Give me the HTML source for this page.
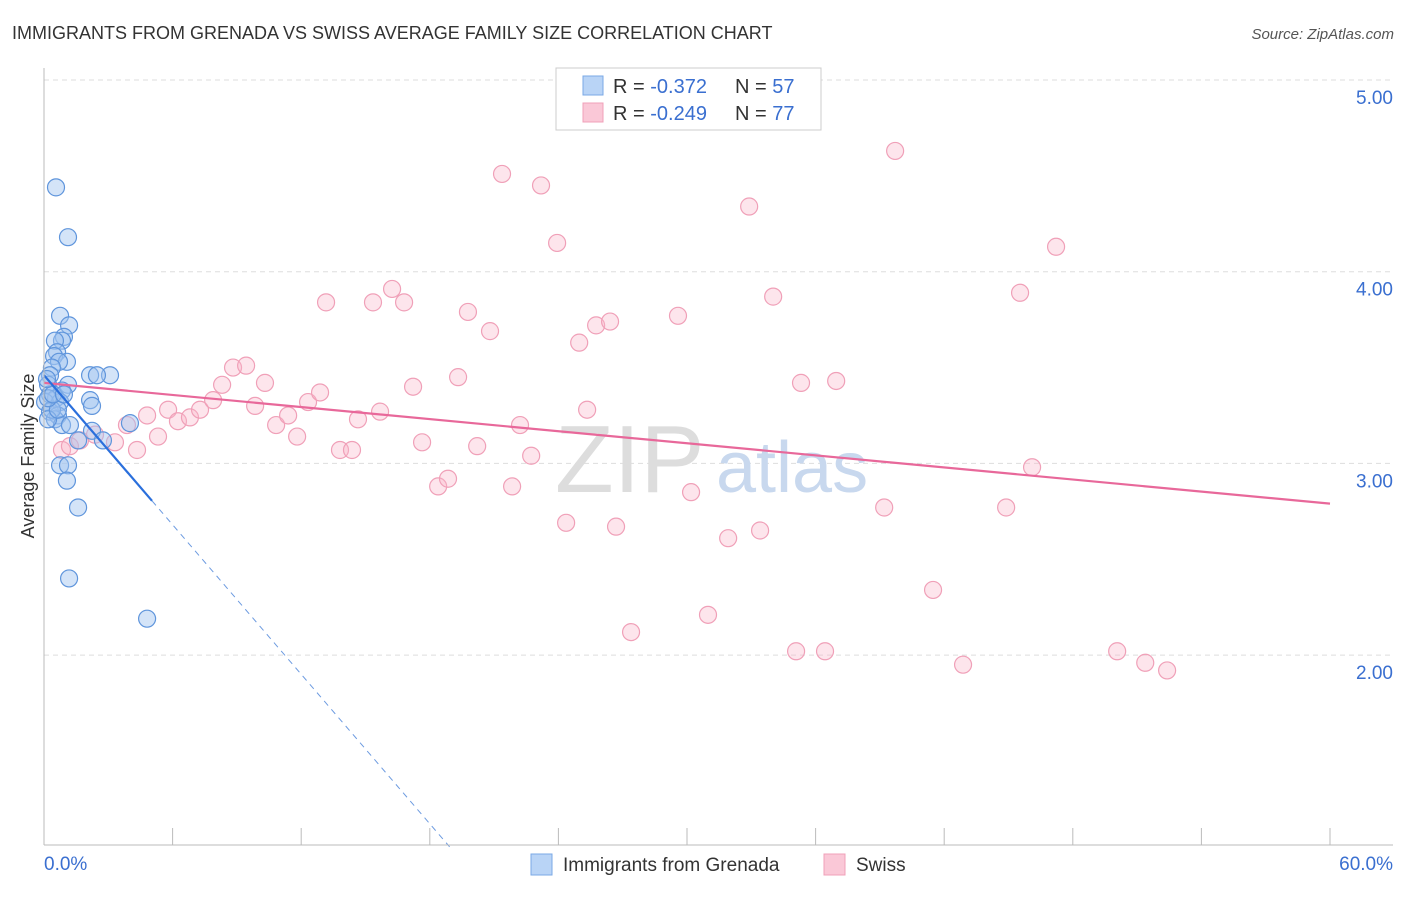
<!DOCTYPE html>
<html><head><meta charset="utf-8"><style>
body{margin:0;background:#fff;font-family:"Liberation Sans",sans-serif;}
svg text{font-family:"Liberation Sans",sans-serif;}
</style></head><body>
<svg id="c" width="1406" height="892" xmlns="http://www.w3.org/2000/svg">
<text x="12" y="39" font-size="18" fill="#333">IMMIGRANTS FROM GRENADA VS SWISS AVERAGE FAMILY SIZE CORRELATION CHART</text>
<text x="1394" y="39" font-size="15" fill="#555" font-style="italic" text-anchor="end">Source: ZipAtlas.com</text>
<g id="grid"></g>
<text x="555" y="492" font-size="96" fill="#ddd" font-family="Liberation Serif">ZIP</text>
<text x="716" y="492" font-size="72" fill="#c8d8ee">atlas</text>
<g id="pts"></g>
<g id="lines"></g>
<line x1="44" y1="68" x2="44" y2="845" stroke="#bbb"/>
<line x1="44" y1="845" x2="1393" y2="845" stroke="#bbb"/>
<g id="ticks"></g>
<text x="44" y="870" font-size="19" fill="#3a6fd0">0.0%</text>
<text x="1393" y="870" font-size="19" fill="#3a6fd0" text-anchor="end">60.0%</text>
<text transform="translate(34,456) rotate(-90)" font-size="18" fill="#333" text-anchor="middle">Average Family Size</text>
<g>
<rect x="556" y="68" width="265" height="62" fill="#fff" stroke="#ccc"/>
<rect x="583" y="76" width="20" height="19" fill="#b9d4f6" stroke="#7aa8e6"/>
<rect x="583" y="103" width="20" height="19" fill="#fac8d7" stroke="#f0a0b8"/>
<text x="613" y="93" font-size="20" fill="#333">R = <tspan fill="#3a6fd0">-0.372</tspan></text>
<text x="735" y="93" font-size="20" fill="#333">N = <tspan fill="#3a6fd0">57</tspan></text>
<text x="613" y="120" font-size="20" fill="#333">R = <tspan fill="#3a6fd0">-0.249</tspan></text>
<text x="735" y="120" font-size="20" fill="#333">N = <tspan fill="#3a6fd0">77</tspan></text>
</g>
<g>
<rect x="531" y="854" width="21" height="21" fill="#b9d4f6" stroke="#7aa8e6"/>
<text x="563" y="871" font-size="19" fill="#333">Immigrants from Grenada</text>
<rect x="824" y="854" width="21" height="21" fill="#fac8d7" stroke="#f0a0b8"/>
<text x="856" y="871" font-size="19" fill="#333">Swiss</text>
</g>
</svg>
<script>
const yTicks=[2,3,4,5];
const yTickLabels=["2.00","3.00","4.00","5.00"];
const blueX=[0.56,1.12,0.75,1.17,0.93,0.84,0.51,0.61,0.47,1.07,0.70,0.37,0.28,2.15,3.08,2.47,1.12,0.19,0.84,0.28,0.56,0.05,0.75,2.15,2.24,0.28,0.65,0.51,0.84,1.21,2.24,4.01,2.75,1.59,0.75,1.12,1.07,1.59,1.17,4.81,0.37,0.19,0.65,0.19,0.42,0.93,0.14];
const blueY=[4.44,4.18,3.77,3.72,3.66,3.64,3.64,3.58,3.56,3.53,3.53,3.50,3.46,3.46,3.46,3.46,3.41,3.41,3.38,3.36,3.34,3.32,3.32,3.33,3.30,3.27,3.25,3.23,3.20,3.20,3.17,3.21,3.12,3.12,2.99,2.99,2.91,2.77,2.40,2.19,3.28,3.23,3.28,3.34,3.36,3.36,3.44];
const pinkX=[0.84,1.21,1.68,2.38,3.31,3.87,4.34,4.81,5.32,5.79,6.25,6.81,7.28,7.89,8.31,8.82,9.43,9.85,10.31,10.83,11.39,11.81,12.32,12.88,13.16,13.81,14.37,14.65,15.35,15.68,16.24,16.80,17.22,17.64,18.39,18.85,19.32,19.78,20.21,20.81,21.37,21.84,22.21,22.73,23.19,23.94,24.36,24.97,25.34,25.76,26.41,26.69,27.39,29.58,30.19,30.98,31.92,32.90,33.41,34.02,35.09,35.32,36.44,36.96,39.20,39.71,41.48,42.88,44.89,45.54,46.10,47.22,50.07,51.38,52.40];
const pinkY=[3.07,3.09,3.12,3.15,3.11,3.20,3.07,3.25,3.14,3.28,3.22,3.24,3.28,3.33,3.41,3.50,3.51,3.30,3.42,3.20,3.25,3.14,3.32,3.37,3.84,3.07,3.07,3.23,3.84,3.27,3.91,3.84,3.40,3.11,2.88,2.92,3.45,3.79,3.09,3.69,4.51,2.88,3.20,3.04,4.45,4.15,2.69,3.63,3.28,3.72,3.74,2.67,2.12,3.77,2.85,2.21,2.61,4.34,2.65,3.87,2.02,3.42,2.02,3.43,2.77,4.63,2.34,1.95,2.77,3.89,2.98,4.13,2.02,1.96,1.92];
const pinkTrend=[3.42,2.79];
const blueTrend=[3.46,-0.13];
const sx=v=>44+v*1286/60, sy=v=>80+(5-v)*191.7;
const NS="http://www.w3.org/2000/svg";
function mk(t,a,p){const e=document.createElementNS(NS,t);for(const k in a)e.setAttribute(k,a[k]);p.appendChild(e);return e;}
const grid=document.getElementById('grid');
yTicks.forEach((v,i)=>{
 const l=mk('line',{x1:44,x2:1393,y1:sy(v),y2:sy(v),stroke:'#ddd','stroke-dasharray':'5,4'},grid);
 
 
 const t=mk('text',{x:1393,y:sy(v)+24,'font-size':19,fill:'#3a6fd0','text-anchor':'end'},grid);
 t.textContent=yTickLabels[i];
 
 
});
const ticks=document.getElementById('ticks');
for(let i=1;i<=10;i++){const l=mk('line',{x1:sx(i*6),x2:sx(i*6),y1:828,y2:845,stroke:'#bbb'},ticks);
 
 }
const pts=document.getElementById('pts');
pinkX.forEach((x,i)=>{const c=mk('circle',{cx:sx(x),cy:sy(pinkY[i]),r:8.5,fill:'rgba(248,180,200,0.35)',stroke:'#f0a0b8','stroke-width':1.2},pts);
 
 });
blueX.forEach((x,i)=>{const c=mk('circle',{cx:sx(x),cy:sy(blueY[i]),r:8.5,fill:'rgba(160,196,240,0.45)',stroke:'#5f95dc','stroke-width':1.2},pts);
 
 });
const lines=document.getElementById('lines');
const pl=mk('line',{x1:sx(0),y1:sy(pinkTrend[0]),x2:sx(60),y2:sy(pinkTrend[1]),stroke:'#e8689a','stroke-width':2.2},lines);


const bf=x=>blueTrend[0]+blueTrend[1]*x;
const bl=mk('line',{x1:sx(0),y1:sy(bf(0)),x2:sx(5.04),y2:sy(bf(5.04)),stroke:'#2a6fdc','stroke-width':2.2},lines);


const xe=(bf(0)-1.0)/-blueTrend[1];
const bd=mk('line',{x1:sx(5.04),y1:sy(bf(5.04)),x2:sx(xe),y2:sy(bf(xe)),stroke:'#6d9be0','stroke-width':1,'stroke-dasharray':'6,5'},lines);


</script>
</body></html>
